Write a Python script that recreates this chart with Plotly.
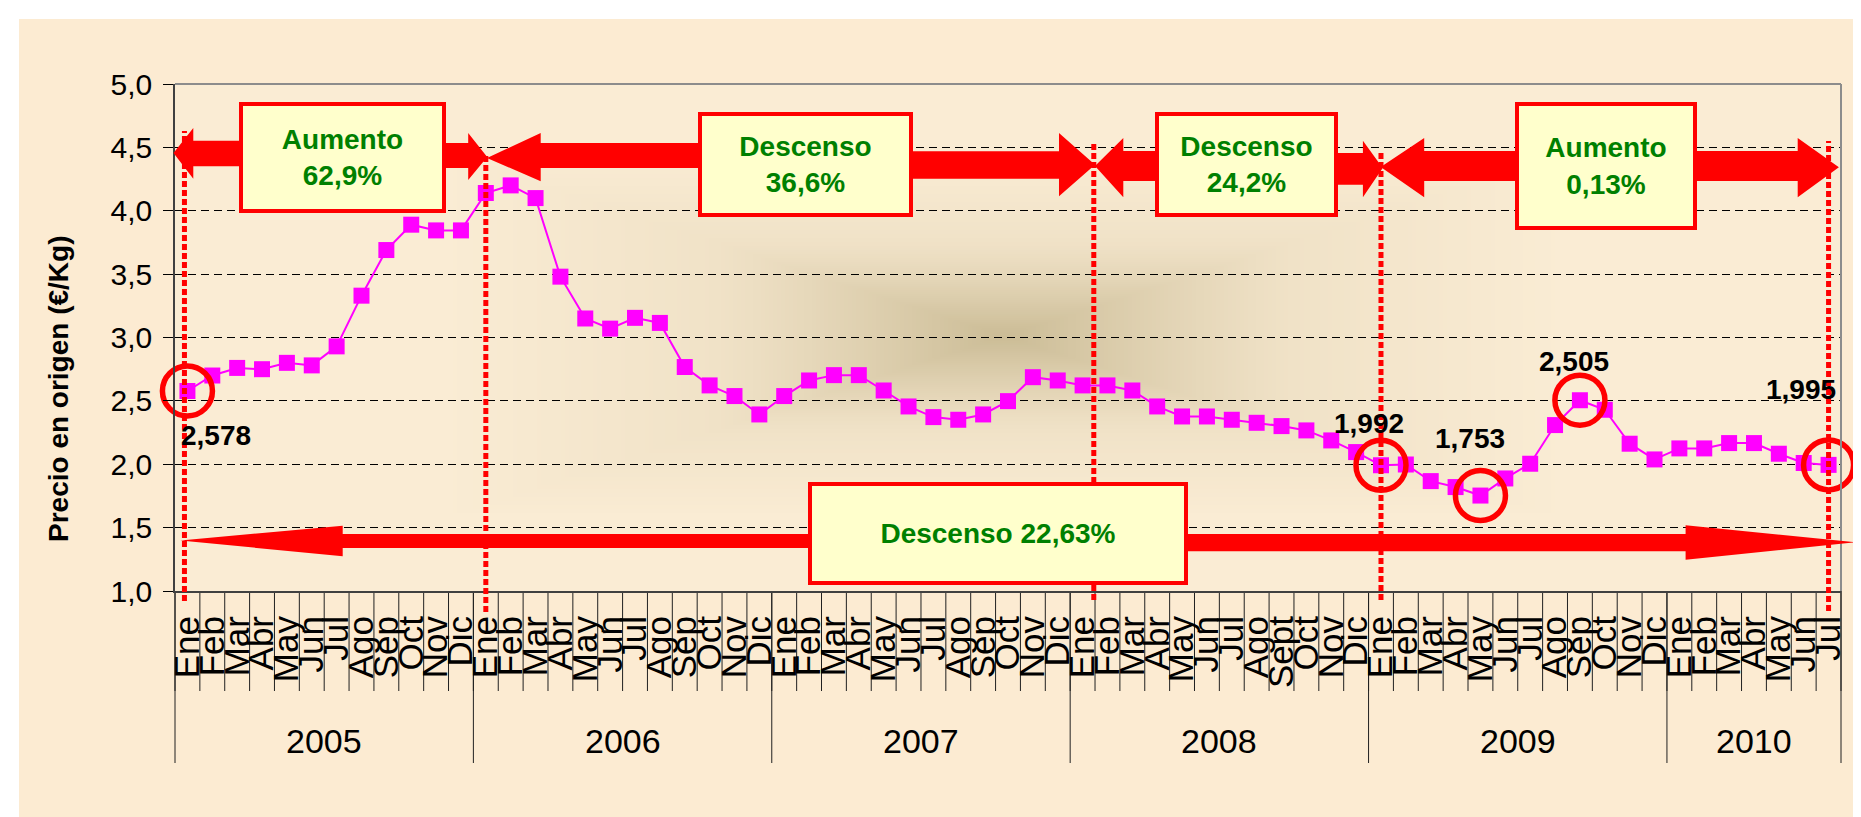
import base64
import struct
import zlib

import numpy as np
import plotly.graph_objects as go

# ---------------------------------------------------------------- data
YEARS = ["2005", "2006", "2007", "2008", "2009", "2010"]

MESES_2005 = ["Ene", "Feb", "Mar", "Abr", "May", "Jun", "Jul", "Ago", "Sep", "Oct", "Nov", "Dic"]
MESES_2006 = ["Ene", "Feb", "Mar", "Abr", "May", "Jun", "Jul", "Ago", "Sep", "Oct", "Nov", "Dic"]
MESES_2007 = ["Ene", "Feb", "Mar", "Abr", "May", "Jun", "Jul", "Ago", "Sep", "Oct", "Nov", "Dic"]
MESES_2008 = ["Ene", "Feb", "Mar", "Abr", "May", "Jun", "Jul", "Ago", "Sept", "Oct", "Nov", "Dic"]
MESES_2009 = ["Ene", "Feb", "Mar", "Abr", "May", "Jun", "Jul", "Ago", "Sep", "Oct", "Nov", "Dic"]
MESES_2010 = ["Ene", "Feb", "Mar", "Abr", "May", "Jun", "Jul"]

PRECIO_2005 = [2.578, 2.70, 2.76, 2.75, 2.80, 2.78, 2.93, 3.33, 3.69, 3.89, 3.845, 3.845]
PRECIO_2006 = [4.14, 4.20, 4.10, 3.48, 3.15, 3.07, 3.155, 3.115, 2.767, 2.622, 2.538, 2.393]
PRECIO_2007 = [2.538, 2.661, 2.703, 2.703, 2.582, 2.456, 2.372, 2.351, 2.393, 2.498, 2.687, 2.661]
PRECIO_2008 = [2.622, 2.622, 2.582, 2.456, 2.377, 2.377, 2.351, 2.327, 2.301, 2.267, 2.188, 2.096]
PRECIO_2009 = [1.992, 1.998, 1.867, 1.820, 1.753, 1.888, 2.004, 2.309, 2.505, 2.43, 2.162, 2.038]
PRECIO_2010 = [2.125, 2.125, 2.167, 2.167, 2.083, 2.01, 1.995]

Y_TICKS = [1.0, 1.5, 2.0, 2.5, 3.0, 3.5, 4.0, 4.5, 5.0]

# highlighted months (circled + value label)
DESTACADOS = [("2005", "Ene"), ("2009", "Ene"), ("2009", "May"), ("2009", "Sep"), ("2010", "Jul")]
# months where the periods start / end (dotted red lines)
LIMITES = [("2005", "Ene"), ("2006", "Ene"), ("2008", "Ene"), ("2009", "Ene"), ("2010", "Jul")]

TRAMOS = [("Aumento", "62,9%"), ("Descenso", "36,6%"), ("Descenso", "24,2%"), ("Aumento", "0,13%")]
TOTAL = ("Descenso", "22,63%")
Y_TITLE = "Precio en origen (€/Kg)"

# ---------------------------------------------------------------- derived
MESES = [MESES_2005, MESES_2006, MESES_2007, MESES_2008, MESES_2009, MESES_2010]
PRECIOS = [PRECIO_2005, PRECIO_2006, PRECIO_2007, PRECIO_2008, PRECIO_2009, PRECIO_2010]
labels, values, index_of = [], [], {}
for yr, ms, ps in zip(YEARS, MESES, PRECIOS):
    for m, p in zip(ms, ps):
        index_of[(yr, m)] = len(labels)
        labels.append(m)
        values.append(p)
N = len(labels)
XIDX = list(range(N))
XR = (-0.5, N - 0.5)
YR = (Y_TICKS[0], Y_TICKS[-1])

# ---------------------------------------------------------------- geometry / style
W, H = 1861, 817
ML, MR, MT, MB = 167, 28, 76, 234
PW, PH = W - ML - MR, H - MT - MB

FONT = "Liberation Sans, Arial, sans-serif"
RED = "#FF0000"
GREEN = "#008000"
MAGENTA = "#FF00FF"
BEIGE = "#FCEBD2"
BOX_FILL = "#FFFFCC"


def fx(px):  # pixel x -> paper
    return (px - ML) / PW


def fy(py):  # pixel y (from top) -> paper
    return (H - MB - py) / PH


def xi(i):  # category index -> paper
    return (i - XR[0]) / (XR[1] - XR[0])


# ---------------------------------------------------------------- background gradient image
# rectangular "from centre" gradient of the plot area
gw, gh = 417, 127
gx = ML + (np.arange(gw) + 0.5) * PW / gw
gy = MT + (np.arange(gh) + 0.5) * PH / gh
GX, GY = np.meshgrid(gx, gy)
d = np.maximum(np.abs(GX - 996) / 295.0, np.abs(GY - 328) / 95.0)
inner = 0.2 + 0.8 * np.clip(1 - d, 0, 1) ** 1.2
outer = 0.2 * np.clip(1 - (d - 1) / 0.9, 0, 1)
w = np.where(d < 1, inner, outer)
c0 = np.array([250, 236, 212], dtype=float)
c1 = np.array([203, 188, 150], dtype=float)
rgb = (c0 + (c1 - c0) * w[..., None]).round().astype(np.uint8)


def png_uri(arr):
    h, wdt, _ = arr.shape
    raw = b"".join(b"\x00" + arr[r].tobytes() for r in range(h))

    def chunk(tag, data):
        c = struct.pack(">I", len(data)) + tag + data
        return c + struct.pack(">I", zlib.crc32(tag + data) & 0xFFFFFFFF)

    png = (b"\x89PNG\r\n\x1a\n"
           + chunk(b"IHDR", struct.pack(">IIBBBBB", wdt, h, 8, 2, 0, 0, 0))
           + chunk(b"IDAT", zlib.compress(raw, 9))
           + chunk(b"IEND", b""))
    return "data:image/png;base64," + base64.b64encode(png).decode()


# ---------------------------------------------------------------- figure
fig = go.Figure()

fig.add_trace(go.Scatter(
    x=XIDX, y=values, mode="lines+markers",
    line=dict(color=MAGENTA, width=2),
    marker=dict(symbol="square", size=16, color=MAGENTA),
    cliponaxis=False, hoverinfo="skip", showlegend=False,
))

dest_idx = [index_of[k] for k in DESTACADOS]
dest_val = [values[i] for i in dest_idx]
fig.add_trace(go.Scatter(
    x=dest_idx, y=dest_val, mode="markers",
    marker=dict(symbol="circle-open", size=50, color=RED, line=dict(width=5.5, color=RED)),
    cliponaxis=False, hoverinfo="skip", showlegend=False,
))

shapes = []
annotations = []

# white margin strips (top / left) around the beige panel
shapes.append(dict(type="rect", xref="paper", yref="paper", x0=fx(0), x1=fx(W), y0=fy(11), y1=fy(0),
                   fillcolor="white", line=dict(width=0), layer="below"))
shapes.append(dict(type="rect", xref="paper", yref="paper", x0=fx(0), x1=fx(11), y0=fy(H), y1=fy(0),
                   fillcolor="white", line=dict(width=0), layer="below"))

# month boundary ticks and year separators under the axis
for k in range(N + 1):
    shapes.append(dict(type="line", xref="paper", yref="paper", x0=xi(k - 0.5), x1=xi(k - 0.5),
                       y0=0, y1=fy(683), line=dict(color="#202020", width=1), layer="below"))
bounds = [0]
for ms in MESES:
    bounds.append(bounds[-1] + len(ms))
for b in bounds:
    shapes.append(dict(type="line", xref="paper", yref="paper", x0=xi(b - 0.5), x1=xi(b - 0.5),
                       y0=0, y1=fy(755), line=dict(color="#202020", width=1), layer="below"))
for yr, b0, b1 in zip(YEARS, bounds[:-1], bounds[1:]):
    annotations.append(dict(text=yr, xref="paper", yref="paper", x=xi((b0 + b1 - 1) / 2), y=fy(733),
                            showarrow=False, xanchor="center", yanchor="middle",
                            font=dict(size=34, color="black", family=FONT)))

# frame: top and right grey border
shapes.append(dict(type="line", xref="paper", yref="paper", x0=0, x1=1, y0=1, y1=1,
                   line=dict(color="#8C8C8C", width=2), layer="above"))
shapes.append(dict(type="line", xref="paper", yref="paper", x0=1, x1=1, y0=0, y1=1,
                   line=dict(color="#8C8C8C", width=2), layer="above"))


# red arrows (pixel geometry of the hand-drawn arrows)
def arrow_part(tip_x, tip_y, base_x, h_top, h_bot, end_x, s_top, s_bot):
    pts = [(tip_x, tip_y), (base_x, h_top), (base_x, s_top), (end_x, s_top),
           (end_x, s_bot), (base_x, s_bot), (base_x, h_bot)]
    return "M " + " L ".join(f"{fx(x):.5f},{fy(y):.5f}" for x, y in pts) + " Z"


ARROWS = [
    (165.5, 145, 185.3, 120, 170.7, 240, 132.7, 158.3),
    (479.2, 149, 460.2, 125, 172, 430, 135, 160),
    (479, 150, 532.7, 125, 173.3, 700, 135, 160),
    (1087, 156.7, 1051, 125, 188.3, 895, 143.3, 170.7),
    (1087, 158, 1115.3, 130, 189.3, 1155, 143, 173),
    (1374.7, 160, 1354.9, 132.7, 189.3, 1320, 145, 176.7),
    (1372.7, 159, 1416.2, 130, 189.3, 1515, 143, 173),
    (1830.9, 159.3, 1789.7, 130, 189.3, 1680, 143, 173),
    (172.3, 532.5, 334.7, 517.7, 548.3, 810, 526, 540),
    (1847.9, 534.3, 1677.6, 517.3, 551.7, 1170, 526, 543.3),
]
for a in ARROWS:
    shapes.append(dict(type="path", xref="paper", yref="paper", path=arrow_part(*a),
                       fillcolor=RED, line=dict(width=0, color=RED), layer="above"))

# dotted red period lines
LIM_SHIFT = [-0.12, 0.0, 0.45, 0.0, 0.0]
LIM_TOP = [123, 147, 133, 143, 133]
LIM_BOT = [593, 604, 592, 592, 603]
for k, sh, top, bot in zip(LIMITES, LIM_SHIFT, LIM_TOP, LIM_BOT):
    xp = xi(index_of[k] + sh)
    shapes.append(dict(type="line", xref="paper", yref="paper", x0=xp, x1=xp, y0=fy(bot), y1=fy(top),
                       line=dict(color=RED, width=5, dash="6px,3px"), layer="above"))

# boxes with percentage text
BOXES = [(233, 96, 436, 203), (692, 106, 903, 207), (1149, 106, 1328, 207), (1509, 96, 1687, 220)]
for (word, pct), (x0, y0, x1, y1) in zip(TRAMOS, BOXES):
    annotations.append(dict(
        text=f"{word}<br>{pct}", xref="paper", yref="paper",
        x=fx((x0 + x1) / 2), y=fy((y0 + y1) / 2), xanchor="center", yanchor="middle",
        width=x1 - x0 - 4, height=y1 - y0 - 4, showarrow=False, align="center", valign="middle",
        bgcolor=BOX_FILL, bordercolor=RED, borderwidth=4, borderpad=0,
        font=dict(size=28, color=GREEN, family=FONT, weight="bold")))
bx0, by0, bx1, by1 = 802, 476, 1178, 575
annotations.append(dict(
    text=f"{TOTAL[0]} {TOTAL[1]}", xref="paper", yref="paper",
    x=fx((bx0 + bx1) / 2), y=fy((by0 + by1) / 2), xanchor="center", yanchor="middle",
    width=bx1 - bx0 - 4, height=by1 - by0 - 4, showarrow=False, align="center", valign="middle",
    bgcolor=BOX_FILL, bordercolor=RED, borderwidth=4, borderpad=0,
    font=dict(size=28, color=GREEN, family=FONT, weight="bold")))

# value labels for the highlighted months
LABEL_SHIFT = [(29, -45), (-12, 42), (-10, 57), (-6, 39), (-28, 75)]
for i, v, (dx, dy) in zip(dest_idx, dest_val, LABEL_SHIFT):
    annotations.append(dict(
        text=f"{v:.3f}".replace(".", ","), x=i, y=v, xref="x", yref="y",
        xshift=dx, yshift=dy, showarrow=False, xanchor="center", yanchor="middle",
        font=dict(size=28, color="black", family=FONT, weight="bold")))

# y axis title
annotations.append(dict(
    text=Y_TITLE, xref="paper", yref="paper", x=fx(50), y=fy(381), textangle=-90,
    showarrow=False, xanchor="center", yanchor="middle",
    font=dict(size=28, color="black", family=FONT, weight="bold")))

fig.update_layout(
    width=W, height=H,
    margin=dict(l=ML, r=MR, t=MT, b=MB, pad=0, autoexpand=False),
    paper_bgcolor=BEIGE, plot_bgcolor="#F9ECD4",
    separators=",.",
    showlegend=False,
    font=dict(family=FONT, color="black"),
    shapes=shapes,
    annotations=annotations,
    images=[dict(source=png_uri(rgb), xref="paper", yref="paper", x=0, y=1, sizex=1, sizey=1,
                 xanchor="left", yanchor="top", sizing="stretch", layer="below")],
    xaxis=dict(
        range=list(XR), tickmode="array", tickvals=XIDX, ticktext=labels, tickangle=-90,
        tickfont=dict(size=35, color="black", family=FONT), ticks="", showgrid=False,
        zeroline=False, showline=True, linecolor="#404040", linewidth=2, fixedrange=True,
        ticklabelstandoff=9, automargin=False,
    ),
    yaxis=dict(
        range=list(YR), tickmode="array", tickvals=Y_TICKS, tickformat=".1f",
        ticks="outside", ticklen=10, tickcolor="black", tickwidth=1,
        tickfont=dict(size=30, color="black", family=FONT),
        showgrid=True, gridcolor="black", gridwidth=1, griddash="8px,5px",
        zeroline=False, showline=True, linecolor="#404040", linewidth=1.5, fixedrange=True,
        ticklabelstandoff=5, automargin=False,
    ),
)

fig.write_html("out.html")
